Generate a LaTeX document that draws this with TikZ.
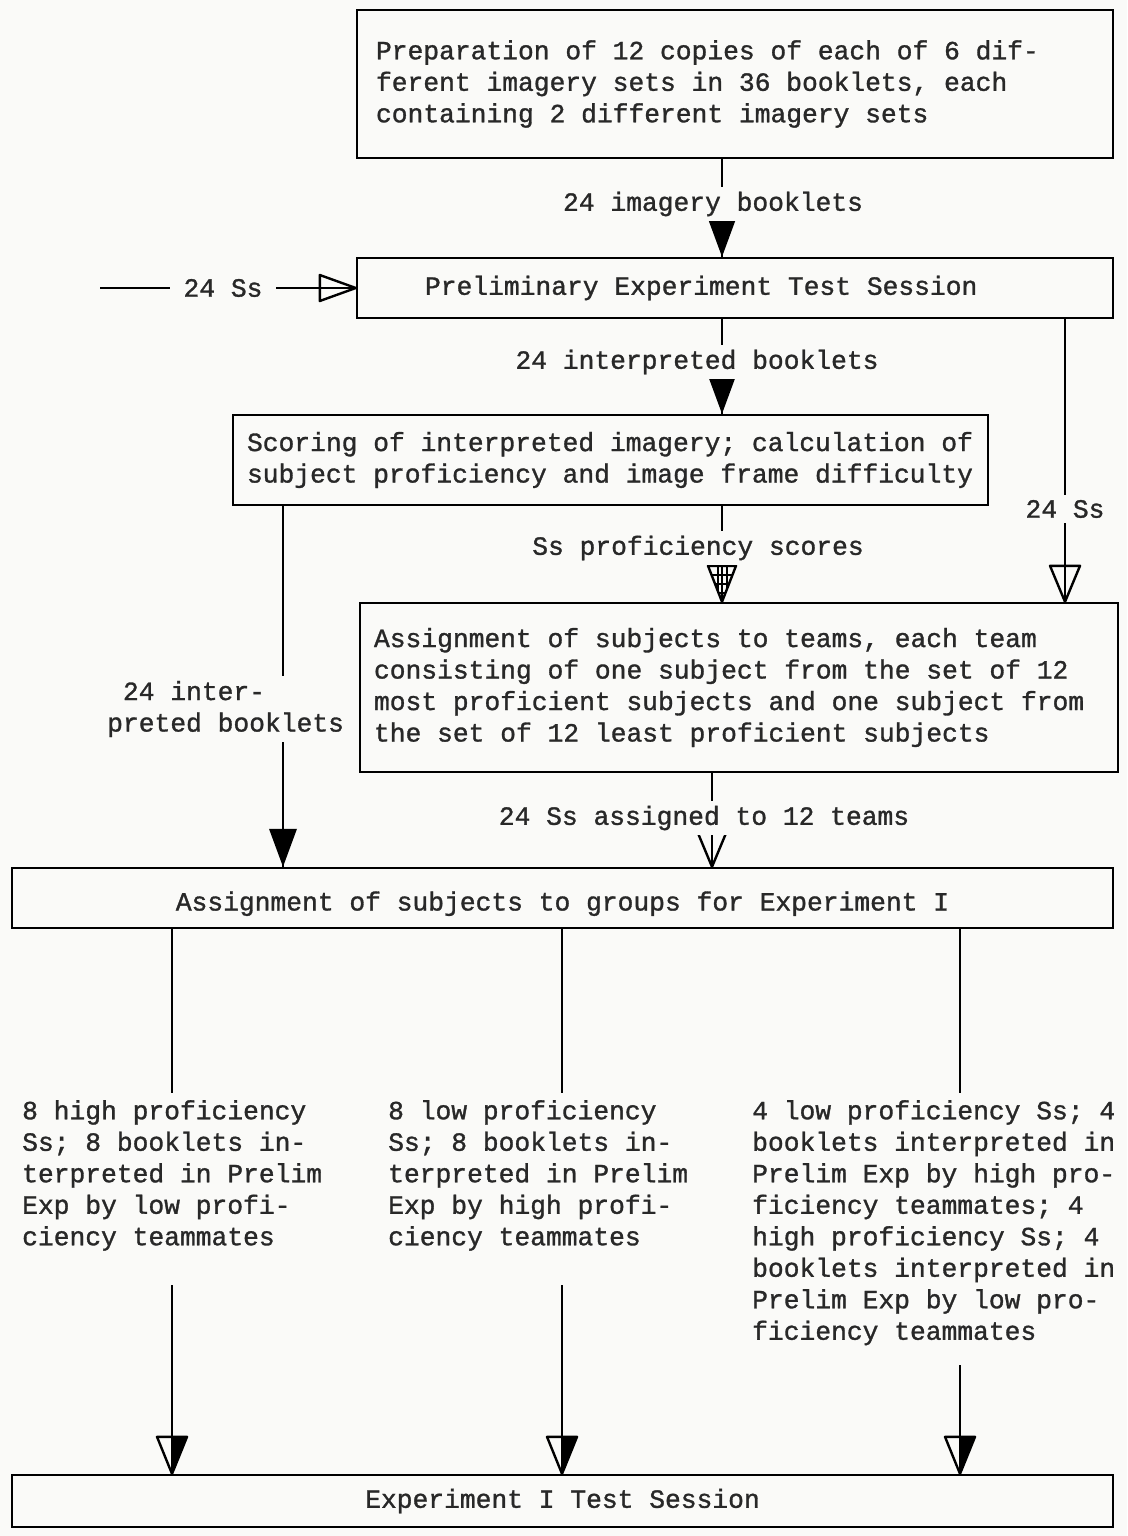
\documentclass[tikz,border=0pt]{standalone}
\usepackage{fontspec}
\newfontfamily\tw[WordSpace={1,0,0},FakeBold=1.2]{Liberation Mono}
\definecolor{bg}{RGB}{250,250,248}
\definecolor{ink}{RGB}{40,40,40}
\tikzset{
  txt/.style={font=\tw\fontsize{26.3}{31.5}\selectfont\frenchspacing, text=ink,
              execute at begin node={\spaceskip=0pt\xspaceskip=0pt}},
  lbl/.style={txt, inner xsep=8pt, inner ysep=5pt, fill=bg},
  blk/.style={txt, inner sep=0pt, align=left, anchor=north west},
  boxnode/.style={txt, draw=black, line width=2.4pt, inner ysep=0pt},
  conn/.style={line width=2.2pt, draw=black},
  tipfill/.pic={\fill[black] (-14,-38) -- (14,-38) -- (0,0) -- cycle;},
  tipopen/.pic={\draw[line width=2.4pt, line join=round] (-15,-36) -- (15,-36) -- (0,0) -- cycle;},
  tipright/.pic={\draw[line width=2.4pt, line join=round] (-36,-13) -- (-36,13) -- (0,0) -- cycle;},
  tiphalf/.pic={\fill[black] (0,-37) -- (15,-37) -- (0,0) -- cycle;
                \draw[line width=2.4pt, line join=round] (-15,-37) -- (15,-37) -- (0,0) -- cycle;},
  tiphatch/.pic={\begin{scope}
                   \clip (-14,-36) -- (14,-36) -- (0,0) -- cycle;
                   \draw[line width=2pt] (-15,-27) -- (15,-27) (-15,-18) -- (15,-18) (-15,-9) -- (15,-9)
                                         (-4.5,-36) -- (-4.5,0) (4.5,-36) -- (4.5,0);
                 \end{scope}
                 \draw[line width=2.4pt, line join=round] (-14,-36) -- (14,-36) -- (0,0) -- cycle;},
}
\begin{document}
\begin{tikzpicture}[x=1pt, y=-1pt]
\fill[bg] (0,0) rectangle (1127,1536);
\useasboundingbox (0,0) rectangle (1127,1536);

% boxes
\node[boxnode, minimum width=756pt, minimum height=148pt, inner xsep=19pt, text width=718pt, align=left] (b1) at (735,84)
  {Preparation of 12 copies of each of 6 dif-\\ferent imagery sets in 36 booklets, each\\containing 2 different imagery sets};
\node[boxnode, minimum width=756pt, minimum height=60pt, inner xsep=68pt, text width=620pt, align=left] (b2) at (735,288)
  {Preliminary Experiment Test Session};
\node[boxnode, minimum width=755pt, minimum height=90pt, inner xsep=14pt, text width=727pt, align=left] (b3) at (610.5,460)
  {Scoring of interpreted imagery; calculation of\\subject proficiency and image frame difficulty};
\node[boxnode, minimum width=758pt, minimum height=169pt, inner xsep=14pt, text width=730pt, align=left] (b4) at (739,687.5)
  {Assignment of subjects to teams, each team\\consisting of one subject from the set of 12\\most proficient subjects and one subject from\\the set of 12 least proficient subjects};
\node[boxnode, minimum width=1101pt, minimum height=60pt, text height=30pt, text depth=5pt] (b5) at (562.5,898)
  {Assignment of subjects to groups for Experiment I};
\node[boxnode, minimum width=1101pt, minimum height=52pt] (b6) at (562.5,1501)
  {Experiment I Test Session};

% x positions
\coordinate (xa) at (722,0);
\coordinate (xr) at (1065,0);
\coordinate (xl) at (283,0);
\coordinate (xm) at (712,0);

% connectors
\draw[conn] (b1.south -| xa) -- (b2.north -| xa) pic{tipfill};
\node[lbl] (l1) at (713,204) {24 imagery booklets};

\coordinate (sin) at (100,288);
\draw[conn] (sin) -- (b2.west) pic{tipright};
\node[lbl, inner xsep=14pt] (l2) at (223,288) {24 Ss};

\draw[conn] (b2.south -| xa) -- (b3.north -| xa) pic{tipfill};
\node[lbl] (l3) at (697,362) {24 interpreted booklets};

\draw[conn] (b2.south -| xr) -- (b4.north -| xr) pic{tipopen};
\node[lbl] (l4) at (1065,509) {24 Ss};

\draw[conn] (b3.south -| xa) -- (b4.north -| xa) pic{tiphatch};
\node[lbl] (l5) at (698,548) {Ss proficiency scores};

\draw[conn] (b3.south -| xl) -- (b5.north -| xl) pic{tipfill};
\node[lbl, align=left, anchor=west] (l6) at (99,709) {\hspace*{15.8pt}24 inter-\\preted booklets};

\draw[conn] (b4.south -| xm) -- (b5.north -| xm) pic{tipopen};
\node[lbl] (l7) at (704,818) {24 Ss assigned to 12 teams};

% bottom blocks
\node[blk] (tA) at (22,1100) {8 high proficiency\\Ss; 8 booklets in-\\terpreted in Prelim\\Exp by low profi-\\ciency teammates};
\node[blk] (tB) at (388,1100) {8 low proficiency\\Ss; 8 booklets in-\\terpreted in Prelim\\Exp by high profi-\\ciency teammates};
\node[blk] (tC) at (752,1100) {4 low proficiency Ss; 4\\booklets interpreted in\\Prelim Exp by high pro-\\ficiency teammates; 4\\high proficiency Ss; 4\\booklets interpreted in\\Prelim Exp by low pro-\\ficiency teammates};

\coordinate (pA) at (172,1093); \coordinate (qA) at (172,1285);
\coordinate (pB) at (562,1093); \coordinate (qB) at (562,1285);
\coordinate (pC) at (960,1093); \coordinate (qC) at (960,1365);
\draw[conn] (b5.south -| pA) -- (pA);
\draw[conn] (qA) -- (b6.north -| qA) pic{tiphalf};
\draw[conn] (b5.south -| pB) -- (pB);
\draw[conn] (qB) -- (b6.north -| qB) pic{tiphalf};
\draw[conn] (b5.south -| pC) -- (pC);
\draw[conn] (qC) -- (b6.north -| qC) pic{tiphalf};
\end{tikzpicture}
\end{document}
